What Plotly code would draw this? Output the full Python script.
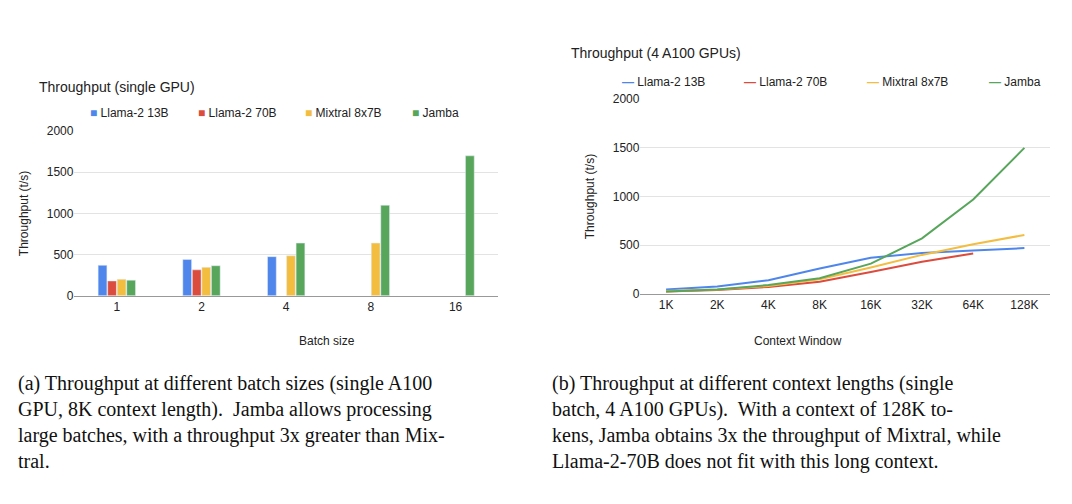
import plotly.graph_objects as go

batch = ["1", "2", "4", "8", "16"]
bar_llama13 = [370, 440, 475, None, None]
bar_llama70 = [180, 315, None, None, None]
bar_mixtral = [200, 345, 485, 640, None]
bar_jamba = [190, 365, 640, 1100, 1700]

ctx = ["1K", "2K", "4K", "8K", "16K", "32K", "64K", "128K"]
ln_llama13 = [45, 75, 140, 260, 370, 420, 445, 470]
ln_llama70 = [25, 40, 70, 125, 225, 330, 415, None]
ln_mixtral = [30, 45, 80, 150, 270, 400, 510, 605]
ln_jamba = [25, 45, 90, 160, 310, 570, 970, 1500]

names = ["Llama-2 13B", "Llama-2 70B", "Mixtral 8x7B", "Jamba"]
colors = ["#4e86ec", "#dc4c3e", "#f3bd40", "#58a65c"]

fig = go.Figure()
for n, c, v in zip(names, colors, [bar_llama13, bar_llama70, bar_mixtral, bar_jamba]):
    fig.add_trace(go.Bar(x=batch, y=v, name=n, marker_color=c, showlegend=False,
                         xaxis="x", yaxis="y"))
for n, c, v in zip(names, colors, [ln_llama13, ln_llama70, ln_mixtral, ln_jamba]):
    fig.add_trace(go.Scatter(x=ctx, y=v, name=n, mode="lines", line=dict(color=c, width=2),
                             showlegend=False, xaxis="x2", yaxis="y2"))

font = dict(family="Arial, Liberation Sans", size=12, color="#222")
ax = dict(showgrid=False, showline=True, linecolor="#999", ticks="", tickfont=font)
ay = dict(range=[0, 2000], dtick=500, gridcolor="#e3e3e3", zeroline=False, tickfont=font,
          title=dict(text="Throughput (t/s)", font=font))

ann = []
for i, (n, c) in enumerate(zip(names, colors)):
    ann.append(dict(x=0.075 + i * 0.1, y=0.818, xref="paper", yref="paper", xanchor="left",
                    text=f"<span style='color:{c}'>■</span> {n}", showarrow=False, font=font))
for i, (n, c) in enumerate(zip(names, colors)):
    ann.append(dict(x=0.571 + i * 0.114, y=0.881, xref="paper", yref="paper", xanchor="left",
                    text=f"<span style='color:{c}'><b>—</b></span> {n}", showarrow=False, font=font))

title_font = dict(family="Arial, Liberation Sans", size=14, color="#222")
ann += [
    dict(x=0.027, y=0.873, xref="paper", yref="paper", xanchor="left", showarrow=False,
         text="Throughput (single GPU)", font=title_font),
    dict(x=0.523, y=0.943, xref="paper", yref="paper", xanchor="left", showarrow=False,
         text="Throughput (4 A100 GPUs)", font=title_font),
    dict(x=0.27, y=0.334, xref="paper", yref="paper", showarrow=False, text="Batch size", font=font),
    dict(x=0.78, y=0.335, xref="paper", yref="paper", showarrow=False, text="Context Window", font=font),
]
serif = dict(family="Liberation Serif, Times New Roman", size=20, color="#111")
ann += [
    dict(x=0.007, y=0.275, xref="paper", yref="paper", xanchor="left", yanchor="top", align="left",
         showarrow=False, font=serif,
         text="(a) Throughput at different batch sizes (single A100<br>GPU, 8K context length).  Jamba allows processing<br>large batches, with a throughput 3x greater than Mix-<br>tral."),
    dict(x=0.506, y=0.275, xref="paper", yref="paper", xanchor="left", yanchor="top", align="left",
         showarrow=False, font=serif,
         text="(b) Throughput at different context lengths (single<br>batch, 4 A100 GPUs).  With a context of 128K to-<br>kens, Jamba obtains 3x the throughput of Mixtral, while<br>Llama-2-70B does not fit with this long context."),
]

fig.update_layout(
    width=1072, height=504, margin=dict(l=0, r=0, t=0, b=0),
    paper_bgcolor="white", plot_bgcolor="white",
    barmode="group", bargap=0.55, bargroupgap=0.08,
    xaxis=dict(ax, domain=[0.062, 0.457], type="category"),
    yaxis=dict(ay, domain=[0.427, 0.763]),
    xaxis2=dict(ax, domain=[0.59, 0.972], type="category", anchor="y2", range=[-0.5, 7.5]),
    yaxis2=dict(ay, domain=[0.431, 0.828], anchor="x2"),
    annotations=ann,
)

fig.write_html("out.html")
